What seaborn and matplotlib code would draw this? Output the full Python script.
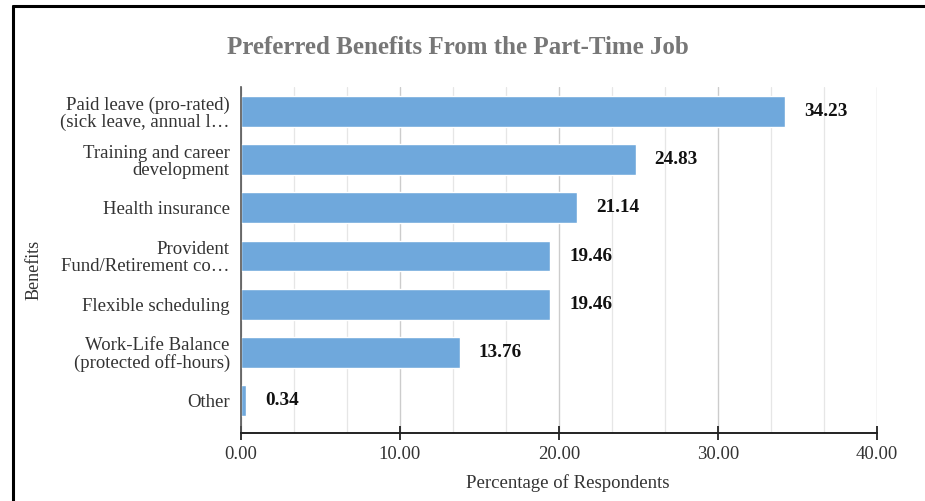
import matplotlib
matplotlib.use("Agg")
import matplotlib.pyplot as plt
from matplotlib.ticker import MultipleLocator
from matplotlib.lines import Line2D
import seaborn as sns
import pandas as pd

# data
benefits = [
    "Paid leave (pro-rated)\n(sick leave, annual l\u2026",
    "Training and career\ndevelopment",
    "Health insurance",
    "Provident\nFund/Retirement co\u2026",
    "Flexible scheduling",
    "Work-Life Balance\n(protected off-hours)",
    "Other",
]
percentages = [34.23, 24.83, 21.14, 19.46, 19.46, 13.76, 0.34]
x_ticks = [0, 10, 20, 30, 40]

df = pd.DataFrame({"Benefits": benefits, "Percentage": percentages})

sns.set_theme(style="white")
plt.rcParams["font.family"] = ["Liberation Serif", "DejaVu Serif"]

fig = plt.figure(figsize=(9.25, 5.01), dpi=100)
ax = fig.add_axes([0.2605, 0.1357, 0.948 - 0.2605, 0.8255 - 0.1357])

sns.barplot(data=df, x="Percentage", y="Benefits", orient="h",
            color="#6fa8dc", saturation=1, width=0.64, ax=ax)

# value labels at end of bars
for i, v in enumerate(percentages):
    ax.annotate(f"{v:.2f}", xy=(v, i), xytext=(13.5, 0), textcoords="offset points",
                ha="left", va="center", fontsize=13.8, fontweight="bold", color="#111111")

ax.set_xlim(0, 40)
ax.set_ylim(6.675, -0.5)
ax.set_xticks(x_ticks)
ax.set_xticklabels([f"{t:.2f}" for t in x_ticks])
ax.xaxis.set_minor_locator(MultipleLocator(10 / 3))
ax.grid(axis="x", which="major", color="#cccccc", linewidth=1.0)
ax.grid(axis="x", which="minor", color="#e6e6e6", linewidth=0.9)
ax.set_axisbelow(True)

for s in ["top", "right"]:
    ax.spines[s].set_visible(False)
ax.spines["bottom"].set_color("#222222")
ax.spines["bottom"].set_linewidth(1.4)
ax.spines["left"].set_color("#555555")
ax.spines["left"].set_linewidth(1.2)

# seaborn's white style hides the tick marks, turn the x ones back on
ax.tick_params(axis="x", which="major", bottom=True, direction="inout", length=10, width=1.3,
               color="#222222", labelsize=13.5, labelcolor="#333333", pad=4)
ax.tick_params(axis="x", which="minor", bottom=False)
ax.tick_params(axis="y", left=False, length=0, labelsize=13.5, labelcolor="#333333", pad=8)
for lab in ax.get_yticklabels():
    lab.set_linespacing(1.0)

ax.set_xlabel("Percentage of Respondents", fontsize=13.5, color="#333333", va="center")
ax.set_ylabel("Benefits", fontsize=13, color="#333333", va="center")
ax.xaxis.set_label_coords(0.514, -0.1447)
ax.yaxis.set_label_coords(-0.3255, 0.4716)

fig.text(0.495, 0.906, "Preferred Benefits From the Part-Time Job", ha="center", va="center",
         fontsize=18, fontweight="bold", color="#777777")

# outer frame (left and top edges only visible)
fig.add_artist(Line2D([13 / 925, 13 / 925], [0, 1 - 6 / 501], color="black", linewidth=2.2,
                      transform=fig.transFigure))
fig.add_artist(Line2D([13 / 925, 1], [1 - 6 / 501, 1 - 6 / 501], color="black", linewidth=2.2,
                      transform=fig.transFigure))

fig.savefig("out.png", dpi=100)
